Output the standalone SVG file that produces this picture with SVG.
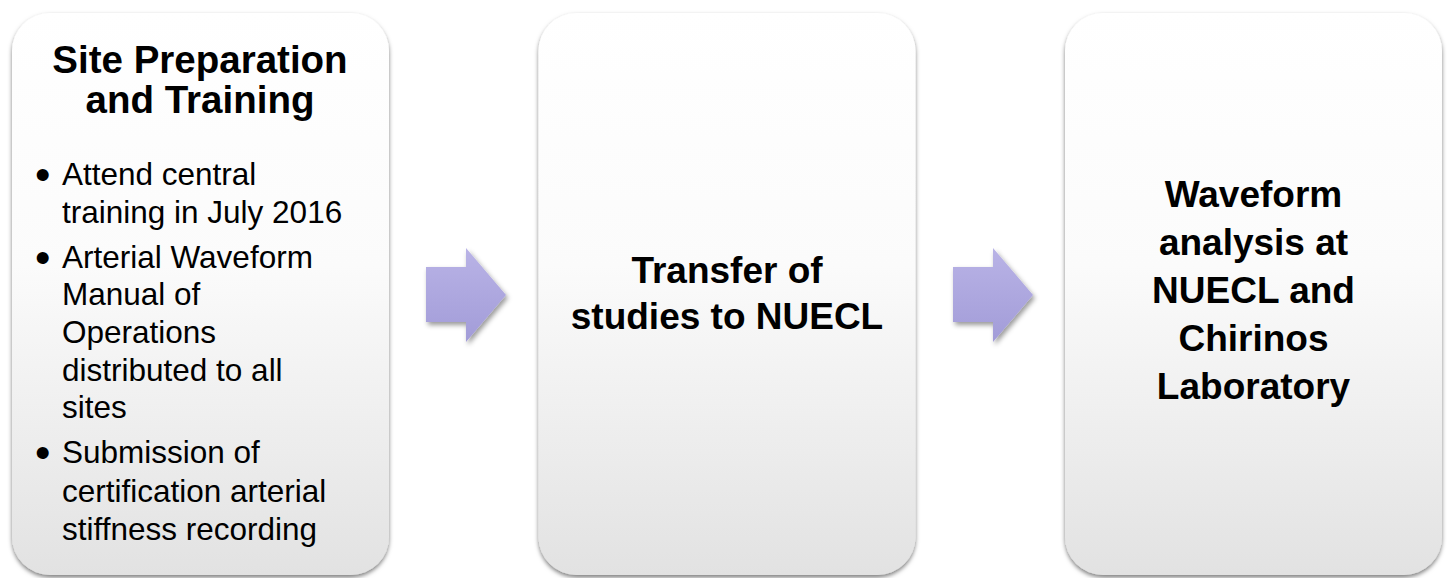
<svg xmlns="http://www.w3.org/2000/svg" width="1452" height="578" viewBox="0 0 1452 578">
<defs>
<linearGradient id="boxGrad" x1="0" y1="0" x2="0" y2="1">
<stop offset="0" stop-color="#ffffff"/>
<stop offset="0.45" stop-color="#fbfbfb"/>
<stop offset="1" stop-color="#e2e2e2"/>
</linearGradient>
<linearGradient id="arrGrad" x1="0" y1="0" x2="0" y2="1">
<stop offset="0" stop-color="#b9b3e6"/>
<stop offset="1" stop-color="#a29cd8"/>
</linearGradient>
<filter id="shadow" x="-10%" y="-10%" width="120%" height="120%">
<feDropShadow dx="0" dy="2.5" stdDeviation="2.2" flood-color="#000" flood-opacity="0.5"/>
</filter>
<filter id="ashadow" x="-20%" y="-20%" width="140%" height="140%">
<feDropShadow dx="2" dy="3" stdDeviation="2.5" flood-color="#000" flood-opacity="0.4"/>
</filter>
</defs>
<style>
.box { fill: url(#boxGrad); filter: url(#shadow); }
.title { font-family: "Liberation Sans", Arial, sans-serif; font-weight: bold; fill: #000; text-anchor: middle; }
.bul { font-family: "Liberation Sans", Arial, sans-serif; font-size: 31.5px; fill: #000; }
.dot { font-family: "Liberation Sans", Arial, sans-serif; font-size: 44px; fill: #000; }
.arrow { fill: url(#arrGrad); filter: url(#ashadow); }
</style>
<g id="connectors">
<path class="arrow" d="M426,267 H466 V248 L506,295 L466,342 V322 H426 Z"/>
<path class="arrow" d="M953,267 H993 V248 L1033,295 L993,342 V322 H953 Z"/>
</g>
<g id="node1">
<rect class="box" x="12" y="13" width="377" height="562" rx="38"/>
<text class="title" font-size="38.5" x="200" y="73">Site Preparation</text>
<text class="title" font-size="38.5" x="200" y="113">and Training</text>
<text class="dot" x="35" y="190">•</text>
<text class="bul" x="62" y="185">Attend central</text>
<text class="bul" x="62" y="223">training in July 2016</text>
<text class="dot" x="35" y="273">•</text>
<text class="bul" x="62" y="268">Arterial Waveform</text>
<text class="bul" x="62" y="305">Manual of</text>
<text class="bul" x="62" y="343">Operations</text>
<text class="bul" x="62" y="381">distributed to all</text>
<text class="bul" x="62" y="418">sites</text>
<text class="dot" x="35" y="468">•</text>
<text class="bul" x="62" y="463">Submission of</text>
<text class="bul" x="62" y="502">certification arterial</text>
<text class="bul" x="62" y="540">stiffness recording</text>
</g>
<g id="node2">
<rect class="box" x="538.5" y="13" width="377" height="562" rx="38"/>
<text class="title" font-size="37" x="727" y="283">Transfer of</text>
<text class="title" font-size="37" x="727" y="329">studies to NUECL</text>
</g>
<g id="node3">
<rect class="box" x="1065" y="13" width="377" height="562" rx="38"/>
<text class="title" font-size="37" x="1253.5" y="207">Waveform</text>
<text class="title" font-size="37" x="1253.5" y="255">analysis at</text>
<text class="title" font-size="37" x="1253.5" y="303">NUECL and</text>
<text class="title" font-size="37" x="1253.5" y="351">Chirinos</text>
<text class="title" font-size="37" x="1253.5" y="399">Laboratory</text>
</g>
</svg>
